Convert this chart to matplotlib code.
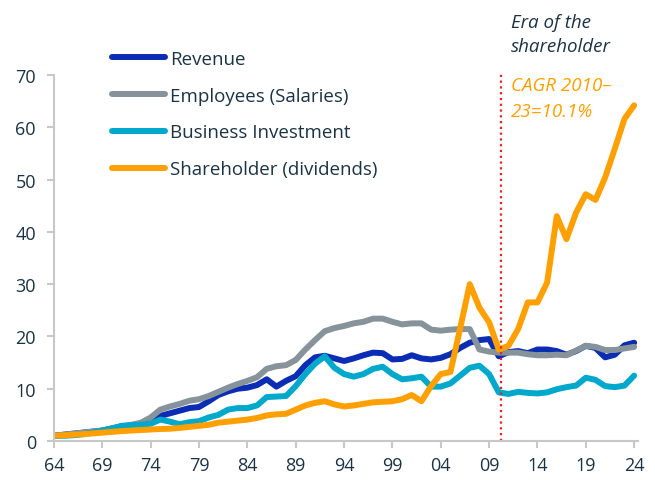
import matplotlib
matplotlib.use("Agg")
import matplotlib.pyplot as plt
import numpy as np

years = list(range(1964, 2025))

revenue = [1.0, 1.2, 1.4, 1.6, 1.8, 2.0, 2.4, 2.8, 3.0, 3.3,
           3.8, 4.8, 5.3, 5.8, 6.3, 6.5, 7.6, 8.8, 9.5, 10.0,
           10.2, 10.7, 11.8, 10.4, 11.5, 12.4, 14.5, 16.0, 16.3, 15.8,
           15.3, 15.8, 16.4, 16.9, 16.8, 15.6, 15.7, 16.4, 15.8, 15.6,
           15.9, 16.6, 17.8, 18.8, 19.3, 19.5, 16.2, 17.0, 17.2, 16.8,
           17.5, 17.5, 17.2, 16.5, 17.2, 18.2, 17.8, 16.0, 16.5, 18.3,
           18.8]

employees = [1.0, 1.2, 1.4, 1.6, 1.8, 2.0, 2.4, 2.8, 3.1, 3.5,
             4.5, 6.0, 6.6, 7.1, 7.7, 8.0, 8.6, 9.4, 10.2, 10.9,
             11.5, 12.2, 13.8, 14.3, 14.5, 15.5, 17.5, 19.3, 21.0, 21.6,
             22.0, 22.5, 22.8, 23.4, 23.4, 22.8, 22.3, 22.5, 22.5, 21.3,
             21.1, 21.3, 21.4, 21.4, 17.5, 17.1, 16.9, 16.9, 16.9, 16.6,
             16.4, 16.4, 16.5, 16.4, 17.3, 18.2, 18.0, 17.4, 17.4, 17.7,
             18.0]

investment = [1.0, 1.0, 1.1, 1.3, 1.6, 2.0, 2.4, 2.9, 3.0, 3.1,
              3.3, 4.1, 3.7, 3.2, 3.6, 3.8, 4.5, 5.0, 6.0, 6.3,
              6.3, 6.8, 8.4, 8.5, 8.6, 10.5, 12.8, 14.8, 16.2, 14.0,
              12.8, 12.3, 12.8, 13.8, 14.2, 12.8, 11.8, 12.0, 12.3, 10.4,
              10.4, 11.0, 12.5, 14.0, 14.4, 12.8, 9.3, 9.0, 9.4, 9.2,
              9.1, 9.3, 9.9, 10.3, 10.6, 12.1, 11.7, 10.5, 10.3, 10.6,
              12.5]

dividends = [1.0, 1.1, 1.2, 1.3, 1.45, 1.6, 1.75, 1.9, 2.0, 2.1,
             2.2, 2.3, 2.35, 2.5, 2.7, 2.9, 3.1, 3.5, 3.7, 3.9,
             4.1, 4.4, 4.9, 5.1, 5.2, 6.0, 6.8, 7.3, 7.6, 7.0,
             6.6, 6.8, 7.1, 7.4, 7.5, 7.6, 8.0, 8.8, 7.6, 10.5,
             12.8, 13.2, 21.5, 30.0, 25.5, 22.7, 17.5, 18.2, 21.4, 26.5,
             26.5, 30.3, 43.0, 38.6, 43.7, 47.2, 46.1, 50.4, 55.9, 61.6,
             64.2]

series_labels = ["Revenue", "Employees (Salaries)", "Business Investment",
                 "Shareholder (dividends)"]
series_colors = ["#0A2DB4", "#87939A", "#00A8CC", "#FFA000"]

xtick_years = list(range(1964, 2025, 5))
xtick_labels = [f"{y % 100:02d}" for y in xtick_years]
yticks = [0, 10, 20, 30, 40, 50, 60, 70]

era_year = 2010.2

plt.rcParams['font.family'] = ['Open Sans', 'DejaVu Sans']
text_color = "#1B3345"
axis_color = "#C8C8C8"

W, H = 655, 481
fig = plt.figure(figsize=(6.55, 4.81), dpi=100)
ax = fig.add_axes([54 / W, 39 / H, (638 - 54) / W, (442 - 76) / H])

for vals, lab, col in zip([revenue, employees, investment, dividends],
                          series_labels, series_colors):
    ax.plot(years, vals, color=col, lw=4.3, label=lab,
            solid_capstyle='round', solid_joinstyle='round')

ax.plot([era_year, era_year], [0, 70.2], color="#E8202A", lw=1.6,
        linestyle=(0, (1, 1.6)), clip_on=False)

ax.set_xlim(1964, 2024.4)
ax.set_ylim(0, 70)
ax.set_xticks(xtick_years)
ax.set_xticklabels(xtick_labels)
ax.set_yticks(yticks)

for s in ['top', 'right']:
    ax.spines[s].set_visible(False)
for s in ['left', 'bottom']:
    ax.spines[s].set_color(axis_color)
    ax.spines[s].set_linewidth(1.5)
ax.tick_params(axis='both', colors=axis_color, width=1.5, length=5,
               labelcolor=text_color, labelsize=13)
ax.tick_params(axis='x', pad=6)
ax.tick_params(axis='y', pad=8)

fs = 13.5
leg = fig.legend(loc='upper left', bbox_to_anchor=(112 / W, 1 - 51 / H),
                 frameon=False, fontsize=fs, handlelength=2.85,
                 handletextpad=0.27, labelspacing=1.0, borderaxespad=0,
                 borderpad=0)
for t in leg.get_texts():
    t.set_color(text_color)
for h in leg.get_lines():
    h.set_linewidth(4.3)
    h.set_solid_capstyle('round')

fig.text(511 / W, 1 - 23 / H, "Era of the", fontsize=fs,
         style='italic', color=text_color, ha='left', va='center')
fig.text(511 / W, 1 - 47 / H, "shareholder", fontsize=fs,
         style='italic', color=text_color, ha='left', va='center')
fig.text(511 / W, 1 - 86 / H, "CAGR 2010–", fontsize=fs,
         style='italic', color="#FFA000", ha='left', va='center')
fig.text(511 / W, 1 - 112 / H, "23=10.1%", fontsize=fs,
         style='italic', color="#FFA000", ha='left', va='center')

fig.savefig("out.png", dpi=100)
